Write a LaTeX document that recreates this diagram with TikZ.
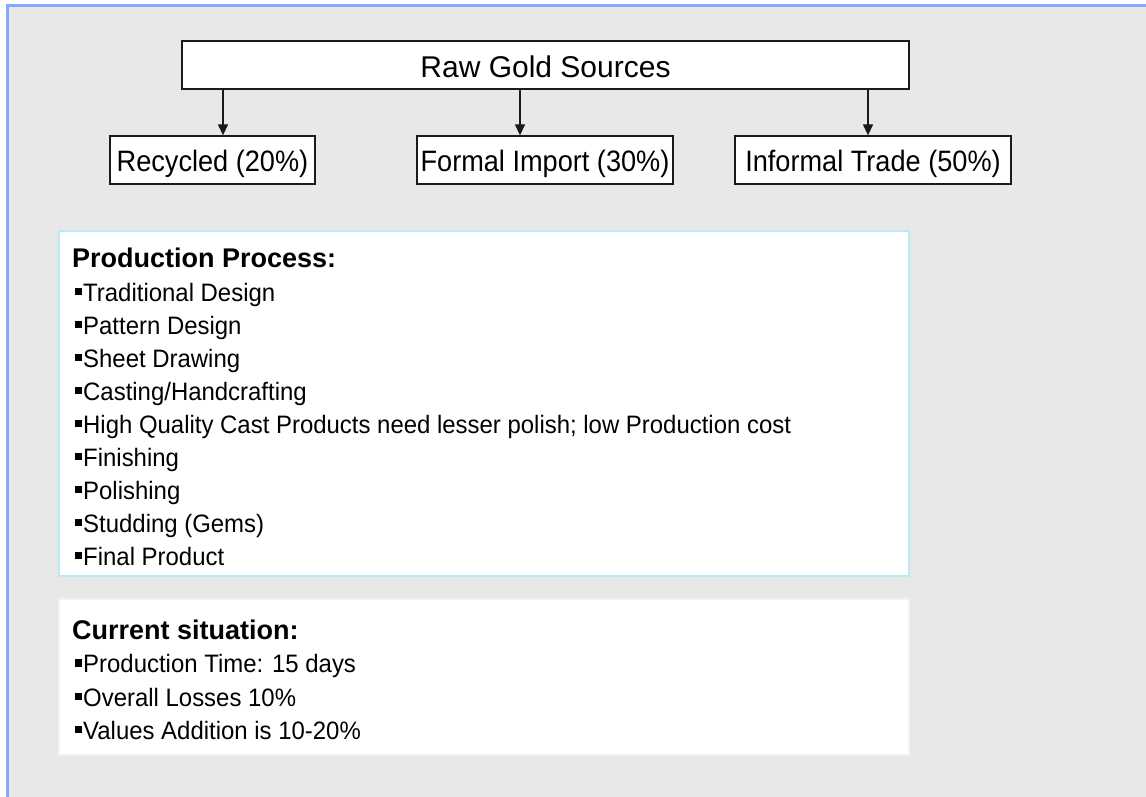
\documentclass[tikz,border=0pt]{standalone}
\usepackage{fontspec}
\setmainfont{Liberation Sans}
\newfontfamily\srcfont[FakeStretch=0.92]{Liberation Sans}
\newfontfamily\listfont[FakeStretch=0.95]{Liberation Sans}
\usetikzlibrary{arrows.meta}
\definecolor{framebg}{HTML}{E8E8E8}
\definecolor{frameblue}{HTML}{82A8FF}
\definecolor{boxcyan}{HTML}{B8EBF3}
\definecolor{boxpale}{HTML}{F2F2F2}
\definecolor{ink}{HTML}{1A1A1A}
% small square bullet in front of each list entry
\newcommand{\sqbullet}{\rule[6pt]{6.5pt}{7.5pt}\hspace{1.5pt}}

\begin{document}
\begin{tikzpicture}[x=1pt,y=1pt,
  srcbox/.style={draw=ink, line width=1.3pt, fill=white, inner sep=0pt,
    minimum height=48pt, text depth=0pt},
  linkarrow/.style={draw=ink, line width=1.3pt, -{Triangle[length=11pt,width=10pt]}},
  panel/.style={line width=2pt, fill=white, inner sep=0pt, minimum width=850pt},
  item/.style={anchor=base west, inner sep=0pt, font=\listfont\fontsize{25.2}{25.2}\selectfont},
  head/.style={anchor=base west, inner sep=0pt, font=\fontsize{27}{27}\selectfont\bfseries},
]
\useasboundingbox (0,0) rectangle (1146,-797);
\fill[white] (0,0) rectangle (1146,-797);

% framed grey canvas
\begin{scope}
  \clip (0,0) rectangle (1146,-797);
  \draw[frameblue, line width=2.5pt, fill=framebg] (7.3,-5.5) rectangle (1160,-810);
\end{scope}

% sources of raw gold
\node[srcbox, minimum width=727pt, text height=25.4pt,
  font=\fontsize{30}{30}\selectfont] (src) at (545.5,-65) {Raw Gold Sources};
\node[srcbox, minimum width=205pt, text height=23.4pt,
  font=\srcfont\fontsize{29.5}{29.5}\selectfont] (rec) at (212.5,-160) {Recycled (20\%)};
\node[srcbox, minimum width=256pt, text height=23.4pt,
  font=\srcfont\fontsize{29.5}{29.5}\selectfont] (imp) at (545,-160) {Formal Import (30\%)};
\node[srcbox, minimum width=276pt, text height=23.4pt,
  font=\srcfont\fontsize{29.5}{29.5}\selectfont] (inf) at (873,-160) {Informal Trade (50\%)};

\coordinate (xr) at (223,0);
\coordinate (xi) at (520,0);
\coordinate (xf) at (868,0);
\draw[linkarrow] (src.south -| xr) -- (rec.north -| xr);
\draw[linkarrow] (src.south -| xi) -- (imp.north -| xi);
\draw[linkarrow] (src.south -| xf) -- (inf.north -| xf);

% production process panel
\node[panel, draw=boxcyan, minimum height=345pt] (procbox) at (484,-403.5) {};
\node[head] (prochead) at (72,-267) {Production Process:};
\foreach \t [count=\i from 0] in {{Traditional Design},{Pattern Design},{Sheet Drawing},
    {Casting/Handcrafting},{High Quality Cast Products need lesser polish; low Production cost},
    {Finishing},{Polishing},{Studding (Gems)},{Final Product}}
  \node[item] (proc\i) at (75,{-301-33*\i}) {\sqbullet\t};

% current situation panel
\node[panel, draw=boxpale, line width=1.5pt, minimum height=156pt] (curbox) at (484,-677) {};
\node[head] (curhead) at (72,-639.3) {Current situation:};
\foreach \t [count=\i from 0] in {{Production Time: 15 days},{Overall Losses 10\%},
    {Values Addition is 10-20\%}}
  \node[item] (cur\i) at (75,{-672.7-33.3*\i}) {\sqbullet\t};
\end{tikzpicture}
\end{document}
